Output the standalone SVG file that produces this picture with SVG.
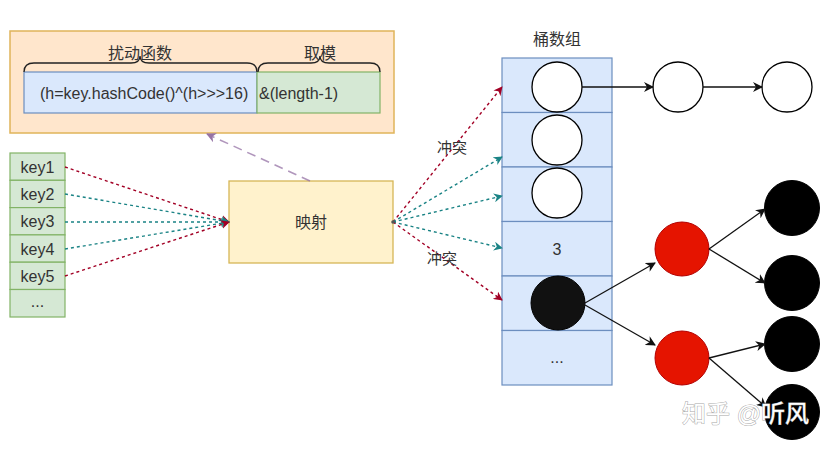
<svg xmlns="http://www.w3.org/2000/svg" width="826" height="449" viewBox="0 0 826 449">
<defs>
<style>
text{font-family:"Liberation Sans","Noto Sans CJK SC",sans-serif;fill:#333;}
.t16{font-size:16px;}
.t15{font-size:15px;}
.red{stroke:#a20025;stroke-width:1.4;stroke-dasharray:3,3;fill:none;}
.teal{stroke:#1a8385;stroke-width:1.4;stroke-dasharray:3,3;fill:none;}
.blk{stroke:#111;stroke-width:1.3;fill:none;}
.wc{fill:#fff;stroke:#000;stroke-width:1.3;}
.bc{fill:#000;stroke:#000;}
.rc{fill:#e51400;stroke:#b20000;stroke-width:1;}
</style>
<marker id="mr" viewBox="0 0 10 10" refX="9" refY="5" markerWidth="9" markerHeight="9" orient="auto" markerUnits="userSpaceOnUse"><path d="M0,0 L10,5 L0,10 L3,5 Z" fill="#a20025"/></marker>
<marker id="mt" viewBox="0 0 10 10" refX="9" refY="5" markerWidth="9" markerHeight="9" orient="auto" markerUnits="userSpaceOnUse"><path d="M0,0 L10,5 L0,10 L3,5 Z" fill="#1a8385"/></marker>
<marker id="mb" viewBox="0 0 10 10" refX="9" refY="5" markerWidth="10" markerHeight="10" orient="auto" markerUnits="userSpaceOnUse"><path d="M0,0 L10,5 L0,10 L3,5 Z" fill="#111"/></marker>
<marker id="mp" viewBox="0 0 10 10" refX="9" refY="5" markerWidth="10" markerHeight="10" orient="auto" markerUnits="userSpaceOnUse"><path d="M0,0 L10,5 L0,10 L3,5 Z" fill="#9673a6"/></marker>
</defs>
<rect width="826" height="449" fill="#fff"/>

<g id="formula">
<rect x="10" y="31" width="384" height="102" fill="#ffe6cc" stroke="#e0b45a" stroke-width="1.5"/>
<rect x="24" y="72" width="233" height="41" fill="#dae8fc" stroke="#6c8ebf" stroke-width="1.2"/>
<rect x="257" y="72" width="123" height="41" fill="#d5e8d4" stroke="#82b366" stroke-width="1.2"/>
<path d="M24,72 Q24,63 34,63 L131,63 Q140,63 140,56 Q140,63 149,63 L247,63 Q257,63 257,72" fill="none" stroke="#222" stroke-width="1.3"/>
<path d="M258,72 Q258,63 268,63 L311,63 Q320,63 320,56 Q320,63 329,63 L370,63 Q380,63 380,72" fill="none" stroke="#222" stroke-width="1.3"/>
<text class="t16" x="140" y="59" text-anchor="middle">扰动函数</text>
<text class="t16" x="320" y="59" text-anchor="middle">取模</text>
<text class="t16" x="40" y="99">(h=key.hashCode()^(h&gt;&gt;&gt;16)</text>
<text class="t16" x="259" y="99">&amp;(length-1)</text>
</g>

<g id="keys">
<rect x="10" y="153" width="55" height="27.3" fill="#d5e8d4" stroke="#82b366" stroke-width="1.2"/>
<rect x="10" y="180.3" width="55" height="27.3" fill="#d5e8d4" stroke="#82b366" stroke-width="1.2"/>
<rect x="10" y="207.6" width="55" height="27.3" fill="#d5e8d4" stroke="#82b366" stroke-width="1.2"/>
<rect x="10" y="234.9" width="55" height="27.3" fill="#d5e8d4" stroke="#82b366" stroke-width="1.2"/>
<rect x="10" y="262.2" width="55" height="27.3" fill="#d5e8d4" stroke="#82b366" stroke-width="1.2"/>
<rect x="10" y="289.5" width="55" height="27.5" fill="#d5e8d4" stroke="#82b366" stroke-width="1.2"/>
<text class="t16" x="37.5" y="173" text-anchor="middle">key1</text>
<text class="t16" x="37.5" y="200" text-anchor="middle">key2</text>
<text class="t16" x="37.5" y="227" text-anchor="middle">key3</text>
<text class="t16" x="37.5" y="255" text-anchor="middle">key4</text>
<text class="t16" x="37.5" y="282" text-anchor="middle">key5</text>
<text class="t16" x="37.5" y="307" text-anchor="middle">...</text>
</g>

<g id="mapping">
<rect x="229" y="181" width="164" height="82" fill="#fff2cc" stroke="#d6b656" stroke-width="1.3"/>
<text class="t16" x="311" y="228" text-anchor="middle">映射</text>
</g>

<g id="buckets">
<text class="t16" x="557" y="45" text-anchor="middle">桶数组</text>
<rect x="502" y="58" width="110" height="54.5" fill="#dae8fc" stroke="#6c8ebf" stroke-width="1.2"/>
<rect x="502" y="112.5" width="110" height="54.5" fill="#dae8fc" stroke="#6c8ebf" stroke-width="1.2"/>
<rect x="502" y="167" width="110" height="54.5" fill="#dae8fc" stroke="#6c8ebf" stroke-width="1.2"/>
<rect x="502" y="221.5" width="110" height="54.5" fill="#dae8fc" stroke="#6c8ebf" stroke-width="1.2"/>
<rect x="502" y="276" width="110" height="54.5" fill="#dae8fc" stroke="#6c8ebf" stroke-width="1.2"/>
<rect x="502" y="330.5" width="110" height="54.5" fill="#dae8fc" stroke="#6c8ebf" stroke-width="1.2"/>
<text class="t16" x="557" y="255" text-anchor="middle">3</text>
<text class="t16" x="557" y="363" text-anchor="middle">...</text>
</g>

<g id="nodes">
<circle id="b1" class="wc" cx="557" cy="87" r="25"/>
<circle id="b2" class="wc" cx="557" cy="140" r="25"/>
<circle id="b3" class="wc" cx="557" cy="193" r="25"/>
<circle id="b5" cx="558" cy="303" r="27" fill="#111" stroke="#000"/>
<circle id="l1" class="wc" cx="678" cy="87" r="25"/>
<circle id="l2" class="wc" cx="787" cy="87" r="25"/>
<circle id="r1" class="rc" cx="682" cy="249" r="27"/>
<circle id="r2" class="rc" cx="682" cy="358" r="27"/>
<circle id="k1" class="bc" cx="792" cy="208" r="27.5"/>
<circle id="k2" class="bc" cx="792" cy="283" r="27.5"/>
<circle id="k3" class="bc" cx="792" cy="344" r="27.5"/>
<circle id="k4" class="bc" cx="792" cy="412" r="27.5"/>
</g>

<g id="connectors">
<line x1="310" y1="181" x2="207" y2="134" stroke="#9673a6" stroke-opacity="0.75" stroke-width="1.6" stroke-dasharray="9,6" marker-end="url(#mp)"/>
<line class="red" x1="65" y1="167" x2="229" y2="222" marker-end="url(#mr)"/>
<line class="teal" x1="65" y1="194" x2="229" y2="222" marker-end="url(#mt)"/>
<line class="teal" x1="65" y1="222" x2="229" y2="222" marker-end="url(#mt)"/>
<line class="teal" x1="65" y1="249" x2="229" y2="222" marker-end="url(#mt)"/>
<line class="red" x1="65" y1="276" x2="229" y2="222" marker-end="url(#mr)"/>
<line class="red" x1="393" y1="222" x2="502" y2="87" marker-end="url(#mr)"/>
<line class="teal" x1="393" y1="222" x2="502" y2="157" marker-end="url(#mt)"/>
<line class="teal" x1="393" y1="222" x2="502" y2="196" marker-end="url(#mt)"/>
<line class="teal" x1="393" y1="222" x2="502" y2="248" marker-end="url(#mt)"/>
<line class="red" x1="393" y1="222" x2="502" y2="300" marker-end="url(#mr)"/>
<circle cx="393" cy="222" r="1.8" fill="#555"/>
<text class="t15" x="452" y="153" text-anchor="middle">冲突</text>
<text class="t15" x="442" y="264" text-anchor="middle">冲突</text>
<line class="blk" x1="582" y1="87" x2="653" y2="87" marker-end="url(#mb)"/>
<line class="blk" x1="703" y1="87" x2="762" y2="87" marker-end="url(#mb)"/>
<line class="blk" x1="585" y1="303" x2="655" y2="263" marker-end="url(#mb)"/>
<line class="blk" x1="585" y1="305" x2="655" y2="345" marker-end="url(#mb)"/>
<line class="blk" x1="709" y1="249" x2="765" y2="209" marker-end="url(#mb)"/>
<line class="blk" x1="709" y1="249" x2="765" y2="283" marker-end="url(#mb)"/>
<line class="blk" x1="709" y1="358" x2="765" y2="344" marker-end="url(#mb)"/>
<line class="blk" x1="709" y1="358" x2="766" y2="407" marker-end="url(#mb)"/>
</g>

<text x="682" y="422" style="font-size:24px;fill:#fff;stroke:#a8a8a8;stroke-width:1;paint-order:stroke;">知乎 @听风</text>
</svg>
